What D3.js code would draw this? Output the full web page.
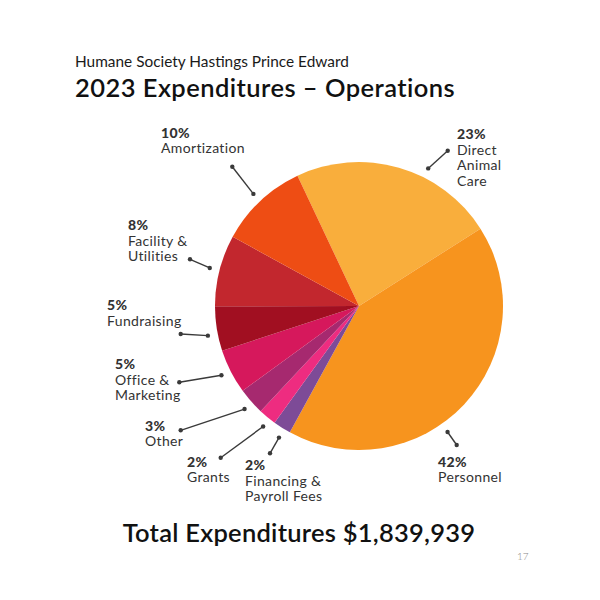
<!DOCTYPE html>
<html>
<head>
<meta charset="utf-8">
<script src="https://cdn.jsdelivr.net/npm/d3@7"></script>
<style>
  html, body { margin: 0; padding: 0; background: #ffffff; }
  svg { display: block; }
  text { font-family: Lato, "Open Sans", sans-serif; }
</style>
</head>
<body>
<svg id="chart" width="600" height="600"></svg>
<script>
// ---- data ----
const categories = ["Direct Animal Care", "Personnel", "Financing & Payroll Fees", "Grants", "Other",
                    "Office & Marketing", "Fundraising", "Facility & Utilities", "Amortization"];
const percents = [23, 42, 2, 2, 3, 5, 5, 8, 10];
const labelLines = [
  ["Direct", "Animal", "Care"],
  ["Personnel"],
  ["Financing &", "Payroll Fees"],
  ["Grants"],
  ["Other"],
  ["Office &", "Marketing"],
  ["Fundraising"],
  ["Facility &", "Utilities"],
  ["Amortization"]
];
const subtitle = "Humane Society Hastings Prince Edward";
const title = "2023 Expenditures \u2013 Operations";
const totalText = "Total Expenditures $1,839,939";
const pageNumber = "17";

// ---- styles / layout ----
const colors = ["#F9AE3C", "#F7941E", "#7D4B97", "#EE2C80", "#A6296F",
                "#D6185C", "#A10F21", "#C2272E", "#EE4D14"];
const cx = 359, cy = 306, R = 144;
// label layout: text x, first baseline, leader angle offset (deg), outer leader end
const labelLayout = [
  { x: 457, y: 139,   off: 10.6, ox: 447.7, oy: 150.7 },
  { x: 438, y: 466.5, off: 11.8, ox: 456.7, oy: 445 },
  { x: 245, y: 470,   off: -1,   ox: 270,   oy: 453.3 },
  { x: 187, y: 466.5, off: -1,   ox: 220.7, oy: 457.7 },
  { x: 145, y: 430.5, off: -0.5, ox: 180.7, oy: 430.3 },
  { x: 115, y: 369,   off: 0.4,  ox: 179.3, oy: 382.3 },
  { x: 107, y: 310,   off: -2,   ox: 180.7, oy: 334 },
  { x: 128, y: 230,   off: 0,    ox: 190,   oy: 259.3 },
  { x: 161, y: 137.5, off: 0,    ox: 232.3, oy: 166.7 }
];
const lineGap = 15.5;

const svg = d3.select("#chart");

svg.append("text").attr("x", 75).attr("y", 67)
  .attr("font-size", 15.4).attr("fill", "#1a1a1a").text(subtitle);
svg.append("text").attr("x", 75).attr("y", 97)
  .attr("font-size", 25.5).attr("letter-spacing", 0.45).attr("font-weight", 600).attr("fill", "#111").text(title);

const toRad = d => d * Math.PI / 180;
const pie = d3.pie().sort(null).value(d => d)
  .startAngle(toRad(-25.3)).endAngle(toRad(334.7));
const arcs = pie(percents);
const arc = d3.arc().innerRadius(0).outerRadius(R);

const g = svg.append("g").attr("transform", `translate(${cx},${cy})`);
g.selectAll("path").data(arcs).enter().append("path")
  .attr("d", arc)
  .attr("fill", (d, i) => colors[i]);

// leaders and labels
const lab = svg.append("g");
arcs.forEach((a, i) => {
  const L = labelLayout[i];
  const ang = (a.startAngle + a.endAngle) / 2 + toRad(L.off);
  const r1 = R + 10;
  const ix = cx + r1 * Math.sin(ang), iy = cy - r1 * Math.cos(ang);
  lab.append("line").attr("x1", ix).attr("y1", iy).attr("x2", L.ox).attr("y2", L.oy)
    .attr("stroke", "#3a3a3a").attr("stroke-width", 1.4);
  [[ix, iy], [L.ox, L.oy]].forEach(p => lab.append("circle").attr("cx", p[0]).attr("cy", p[1])
    .attr("r", 2.2).attr("fill", "#3a3a3a"));
  const t = lab.append("text").attr("x", L.x).attr("y", L.y).attr("fill", "#333")
    .attr("font-size", 14).attr("letter-spacing", 0.35);
  t.append("tspan").attr("x", L.x).attr("font-weight", 900).text(percents[i] + "%");
  labelLines[i].forEach((s, k) => t.append("tspan").attr("x", L.x).attr("dy", lineGap).text(s));
});

svg.append("text").attr("x", 299).attr("y", 542).attr("text-anchor", "middle")
  .attr("font-size", 25.5).attr("letter-spacing", 0.25).attr("font-weight", 600).attr("fill", "#111").text(totalText);
svg.append("text").attr("x", 517).attr("y", 560)
  .attr("font-size", 10).attr("fill", "#888").attr("font-weight", 300).text(pageNumber);
</script>
</body>
</html>
